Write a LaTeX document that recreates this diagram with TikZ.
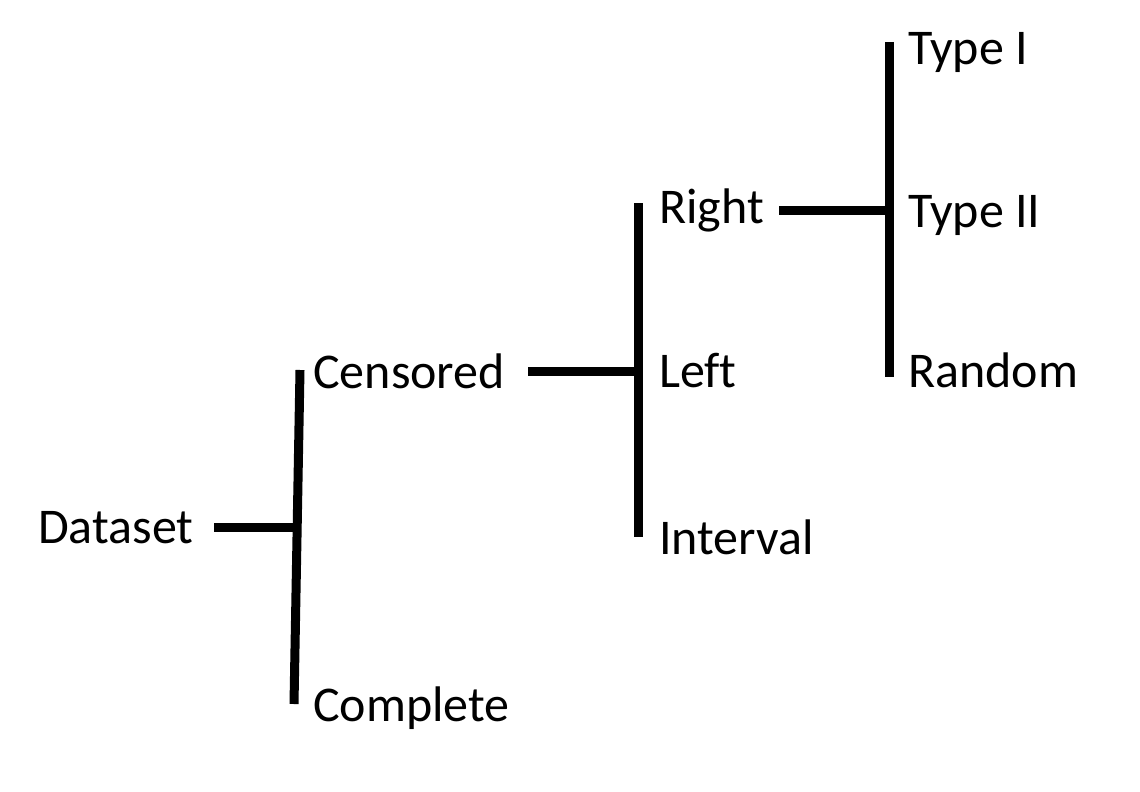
\documentclass[tikz,border=0pt]{standalone}
\usepackage{fontspec}
\setmainfont{Carlito}[Ligatures=NoCommon]
\begin{document}
\begin{tikzpicture}[x=1pt,y=1pt,
  lbl/.style={anchor=base west,inner sep=0pt,font=\fontsize{50}{58}\selectfont},
  bar/.style={line width=9pt,line cap=butt}]
\useasboundingbox[fill=white] (0,0) rectangle (1140,-792);
% labels
\node[lbl] (dataset)  at (38,-543) {Dataset};
\node[lbl] (censored) at (313,-388) {Censored};
\node[lbl] (complete) at (313,-721) {Complete};
\node[lbl] (right)    at (659,-223) {Right};
\node[lbl] (left)     at (659,-387) {Left};
\node[lbl] (interval) at (659,-554) {Interval};
\node[lbl] (type1)    at (908,-65) {Type I};
\node[lbl] (type2)    at (908,-227) {Type II};
\node[lbl] (random)   at (908,-387) {Random};
% bar end points
\coordinate (b1top) at (300,-370);
\coordinate (b1bot) at (294,-704);
\coordinate (b1mid) at (297,-527);
\coordinate (d1)    at (214,-527);
\coordinate (b2top) at (638,-203);
\coordinate (b2bot) at (638,-537);
\coordinate (b2mid) at (638,-371);
\coordinate (c1)    at (528,-371);
\coordinate (b3top) at (889,-42);
\coordinate (b3bot) at (889,-377);
\coordinate (b3mid) at (889,-210);
\coordinate (r1)    at (779,-210);
% connectors
\draw[bar] (d1) -- (b1mid);
\draw[bar] (b1top) -- (b1bot);
\draw[bar] (c1) -- (b2mid);
\draw[bar] (b2top) -- (b2bot);
\draw[bar] (r1) -- (b3mid);
\draw[bar] (b3top) -- (b3bot);
\end{tikzpicture}
\end{document}
